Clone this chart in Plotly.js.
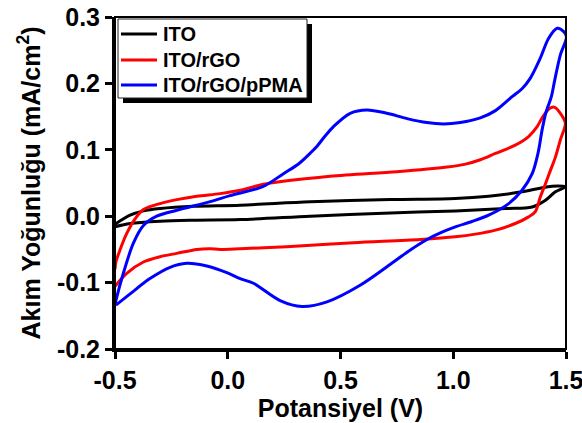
<!DOCTYPE html>
<html><head><meta charset="utf-8">
<script src="https://cdn.plot.ly/plotly-3.0.1.min.js"></script>
<style>html,body{margin:0;padding:0;background:#fff;} #chart{width:582px;height:423px;}</style>
</head><body><div id="chart"></div>
<script>
const seriesNames = ['ITO', 'ITO/rGO', 'ITO/rGO/pPMA'];
const seriesColors = ['#000000', '#ff0000', '#0000ff'];

// ITO: forward scan then reverse scan (potential V, current density mA/cm2)
const itoV = [-0.5, -0.433, -0.374, -0.300, -0.153, 0.055, 0.366, 0.721, 1.009, 1.157, 1.305, 1.379, 1.438, 1.497,
              1.453, 1.409, 1.350, 1.231, 1.009, 0.721, 0.366, 0.055, -0.153, -0.300, -0.433, -0.5];
const itoI = [-0.012, 0.0015, 0.008, 0.0116, 0.015, 0.0166, 0.0216, 0.025, 0.0267, 0.0302, 0.0367, 0.0418, 0.0452, 0.0442,
              0.0367, 0.024, 0.0139, 0.0115, 0.008, 0.005, 0.0, -0.005, -0.006, -0.0075, -0.011, -0.016];

// ITO/rGO
const rgoV = [-0.5, -0.496, -0.478, -0.448, -0.411, -0.374, -0.300, -0.226, -0.137, -0.034, 0.055, 0.158, 0.454, 0.750,
              0.972, 1.050, 1.120, 1.187, 1.275, 1.334, 1.372, 1.401, 1.431, 1.450, 1.475, 1.497,
              1.475, 1.453, 1.431, 1.409, 1.386, 1.364, 1.334, 1.275, 1.187, 1.098, 1.009, 0.854, 0.558, 0.262,
              0.055, -0.034, -0.078, -0.137, -0.226, -0.300, -0.374, -0.448, -0.496, -0.5];
const rgoI = [-0.080, -0.069, -0.051, -0.026, -0.004, 0.010, 0.019, 0.025, 0.030, 0.034, 0.039, 0.048, 0.060, 0.067,
              0.074, 0.078, 0.085, 0.0945, 0.107, 0.120, 0.135, 0.152, 0.163, 0.164, 0.155, 0.140,
              0.115, 0.089, 0.069, 0.049, 0.029, 0.007, -0.001, -0.011, -0.021, -0.027, -0.031, -0.035, -0.040, -0.046,
              -0.049, -0.050, -0.049, -0.050, -0.056, -0.061, -0.069, -0.086, -0.104, -0.106];

// ITO/rGO/pPMA
const pmaV = [-0.5, -0.496, -0.463, -0.419, -0.374, -0.315, -0.226, -0.078, 0.010, 0.158, 0.247, 0.315, 0.366, 0.395,
              0.430, 0.469, 0.543, 0.617, 0.706, 0.795, 0.883, 0.957, 1.031, 1.120, 1.187, 1.261, 1.305, 1.342, 1.386,
              1.423, 1.461, 1.490, 1.502,
              1.475, 1.450, 1.435, 1.410, 1.394, 1.376, 1.350, 1.305, 1.246, 1.157, 1.083, 1.009, 0.950, 0.884,
              0.800, 0.735, 0.587, 0.440, 0.329, 0.232, 0.114, 0.055, -0.004, -0.093, -0.182, -0.256, -0.345, -0.433, -0.496];
const pmaI = [-0.133, -0.127, -0.086, -0.041, -0.014, 0.0, 0.009, 0.022, 0.031, 0.045, 0.064, 0.079, 0.095, 0.105,
              0.120, 0.135, 0.155, 0.160, 0.155, 0.147, 0.141, 0.139, 0.141, 0.148, 0.159, 0.180, 0.192, 0.208, 0.238,
              0.268, 0.283, 0.278, 0.270,
              0.243, 0.205, 0.180, 0.155, 0.130, 0.095, 0.064, 0.039, 0.019, 0.0015, -0.008, -0.016, -0.024, -0.035,
              -0.053, -0.069, -0.104, -0.129, -0.136, -0.127, -0.101, -0.094, -0.085, -0.075, -0.071, -0.077, -0.094, -0.117, -0.134];

const xTickVals = [-0.5, 0.0, 0.5, 1.0, 1.5];
const xTickLabels = ['-0.5', '0.0', '0.5', '1.0', '1.5'];
const yTickVals = [-0.2, -0.1, 0.0, 0.1, 0.2, 0.3];
const yTickLabels = ['-0.2', '-0.1', '0.0', '0.1', '0.2', '0.3'];

const FONT = 'Arial, "Liberation Sans", sans-serif';
const xs = [itoV, rgoV, pmaV];
const ys = [itoI, rgoI, pmaI];

const traces = seriesNames.map((n, i) => ({
  type: 'scatter', mode: 'lines', name: n, x: xs[i], y: ys[i], showlegend: false,
  line: {color: seriesColors[i], width: 3, shape: 'spline', smoothing: 0.9}
}));

const axisCommon = {
  ticks: 'outside', ticklen: 7, tickwidth: 3, tickcolor: '#000',
  showline: true, linewidth: 3, linecolor: '#000', mirror: false,
  zeroline: false, showgrid: false, fixedrange: true, ticklabeloverflow: 'allow',
  tickfont: {family: FONT, size: 25, color: '#000', weight: 'bold'}
};

// Legend box drawn in paper coordinates (plot area: l=115, w=451, t=17, h=332)
const M = {l: 115, r: 16, t: 17, b: 74};
const PW = 582 - M.l - M.r, PH = 423 - M.t - M.b;
const px = v => (v - M.l) / PW;
const py = v => 1 - (v - M.t) / PH;

const shapes = [
  {type: 'rect', xref: 'paper', yref: 'paper', x0: 0, x1: 1, y0: 0, y1: 1, line: {color: '#000', width: 2}, layer: 'above'},
  {type: 'rect', xref: 'paper', yref: 'paper', x0: px(123), x1: px(312), y0: py(103), y1: py(24),
    fillcolor: '#000', line: {width: 0}, layer: 'above'},
  {type: 'rect', xref: 'paper', yref: 'paper', x0: px(118), x1: px(307), y0: py(98), y1: py(19),
    fillcolor: '#fff', line: {color: '#222', width: 1}, layer: 'above'}
];
const rowY = [34, 60, 85];
const annotations = [];
seriesNames.forEach((n, i) => {
  shapes.push({type: 'line', xref: 'paper', yref: 'paper', x0: px(121), x1: px(157), y0: py(rowY[i]), y1: py(rowY[i]),
    line: {color: seriesColors[i], width: 3}, layer: 'above'});
  annotations.push({xref: 'paper', yref: 'paper', x: px(161), y: py(rowY[i]), xanchor: 'left', yanchor: 'middle',
    text: n, showarrow: false, font: {family: FONT, size: 20, color: '#000', weight: 'bold'}});
});

const layout = {
  width: 582, height: 423,
  margin: M,
  paper_bgcolor: '#fff', plot_bgcolor: '#fff',
  showlegend: false,
  xaxis: Object.assign({}, axisCommon, {range: [-0.5, 1.5], tickvals: xTickVals, ticktext: xTickLabels,
    title: {text: 'Potansiyel (V)', font: {family: FONT, size: 25, color: '#000', weight: 'bold'}, standoff: 2}}),
  yaxis: Object.assign({}, axisCommon, {range: [-0.2, 0.3], tickvals: yTickVals, ticktext: yTickLabels,
    title: {text: 'Akım Yoğunluğu (mA/cm<sup>2</sup>)', font: {family: FONT, size: 25, color: '#000', weight: 'bold'}, standoff: 10}}),
  shapes: shapes,
  annotations: annotations
};

Plotly.newPlot('chart', traces, layout, {staticPlot: true, displayModeBar: false});
</script>
</body></html>
